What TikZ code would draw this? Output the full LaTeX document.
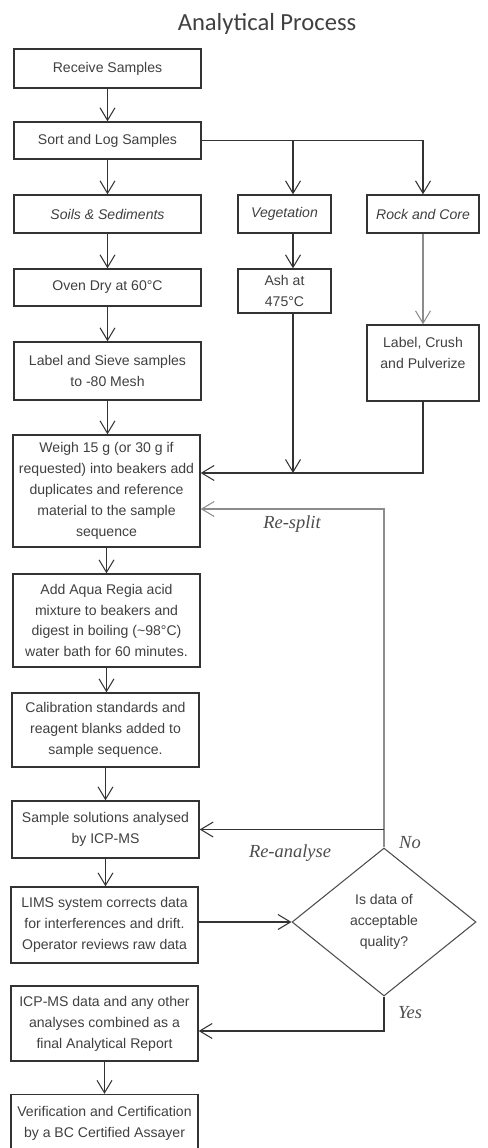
\documentclass[tikz,border=0pt]{standalone}
\usepackage{fontspec}
\setmainfont{Liberation Sans}
\newfontfamily\titlefont{Carlito}
\newfontfamily\notefont{Liberation Serif}
\usetikzlibrary{arrows.meta,shapes.geometric}

\tikzset{
  stepbox/.style={draw=black!80, line width=0.8pt, align=center, inner sep=1pt,
    font=\fontsize{8}{11.9}\selectfont, text=black!75},
  arr/.style={-{Straight Barb[length=2.5mm,width=3mm]}, draw=black!80, line width=0.6pt},
  faint/.style={draw=black!45},
  note/.style={font=\notefont\itshape\fontsize{10.5}{12}\selectfont, text=black!70},
}

\begin{document}
\begin{tikzpicture}[x=0.02cm, y=-0.02cm]
    \useasboundingbox (0,0) rectangle (487,1148);
    \node[font=\titlefont\fontsize{14}{16}\selectfont, text=black!75] (title) at (267,24) {Analytical Process};

    % Main column
    \node[stepbox, minimum width=3.74cm, minimum height=0.78cm] (receive) at (107.5,68.5) {Receive Samples};
    \node[stepbox, minimum width=3.74cm, minimum height=0.74cm] (sort) at (107.5,140.5) {Sort and Log Samples};
    \node[stepbox, minimum width=3.74cm, minimum height=0.76cm] (soils) at (107.5,214) {\itshape Soils \& Sediments};
    \node[stepbox, minimum width=3.74cm, minimum height=0.74cm] (oven) at (107.5,287.5) {Oven Dry at 60°C};
    \node[stepbox, minimum width=3.74cm, minimum height=1.16cm] (sieve) at (107.5,371) {Label and Sieve samples\\to -80 Mesh};
    \node[stepbox, minimum width=3.74cm, minimum height=2.24cm] (weigh) at (106.5,491) {Weigh 15 g (or 30 g if\\requested) into beakers add\\duplicates and reference\\material to the sample\\sequence};
    \node[stepbox, minimum width=3.74cm, minimum height=1.86cm] (aqua) at (106.5,620.5) {Add Aqua Regia acid\\mixture to beakers and\\digest in boiling (\textasciitilde 98°C)\\water bath for 60 minutes.};
    \node[stepbox, minimum width=3.74cm, minimum height=1.48cm] (calib) at (105.5,730) {Calibration standards and\\reagent blanks added to\\sample sequence.};
    \node[stepbox, minimum width=3.74cm, minimum height=1.14cm] (sol) at (105.5,829.5) {Sample solutions analysed\\by ICP-MS};
    \node[stepbox, minimum width=3.74cm, minimum height=1.52cm] (lims) at (104.5,925) {LIMS system corrects data\\for interferences and drift.\\Operator reviews raw data};
    \node[stepbox, minimum width=3.74cm, minimum height=1.5cm] (icp) at (104.5,1023.5) {ICP-MS data and any other\\analyses combined as a\\final Analytical Report};
    \node[stepbox, minimum width=3.74cm, minimum height=1.5cm] (verif) at (104.5,1132) {Verification and Certification\\by a BC Certified Assayer\\~};

    % Vegetation and rock branches
    \node[stepbox, minimum width=1.86cm, minimum height=0.76cm] (veg) at (284.5,214) {\itshape Vegetation};
    \node[stepbox, minimum width=1.86cm, minimum height=0.88cm] (ash) at (284.5,291) {Ash at\\475°C};
    \node[stepbox, minimum width=2.24cm, minimum height=0.76cm] (rock) at (423,214) {\itshape Rock and Core};
    \node[stepbox, minimum width=2.24cm, minimum height=1.52cm] (crush) at (423,363) {Label, Crush\\and Pulverize\\~};

    % Decision
    \node[diamond, aspect=1.24, draw=black!70, line width=0.6pt, minimum width=3.68cm, minimum height=2.96cm,
      inner sep=0pt, align=center, font=\fontsize{8}{11.9}\selectfont, text=black!75] (check) at (384,922)
      {Is data of\\acceptable\\quality?};

    \coordinate (vline) at (293,0);
    \coordinate (joiny) at (0,473);
    \coordinate (splity) at (0,509);
    \coordinate (yesy) at (0,1031);

    \foreach \a/\b in {receive/sort, sort/soils, soils/oven, oven/sieve, sieve/weigh,
        weigh/aqua, aqua/calib, calib/sol, sol/lims, icp/verif}
      \draw[arr] (\a.south) -- (\a.south |- \b.north);

    \draw[arr] (sort.east) -| (rock.north);
    \draw[arr] (sort.east -| vline) -- (veg.north -| vline);
    \draw[arr] (veg.south -| vline) -- (ash.north -| vline);
    \draw[arr, faint] (rock.south) -- (crush.north);
    \draw[arr] (ash.south -| vline) -- (vline |- joiny);
    \draw[arr] (crush.south) |- (weigh.east |- joiny);

    % Loops back from the check
    \draw[arr, faint] (check.north) -- (check.north |- splity) -- (weigh.east |- splity);
    \draw[arr] (check.north |- sol.east) -- (sol.east);
    \draw[arr] (lims.east |- check.west) -- (check.west);
    \draw[arr] (check.south) -- (check.south |- yesy) -- (icp.east |- yesy);

    \node[note] (resplit) at (292,524) {Re-split};
    \node[note] (reanalyse) at (290,853) {Re-analyse};
    \node[note] (nolbl) at (410,843) {No};
    \node[note] (yeslbl) at (410,1013) {Yes};
\end{tikzpicture}
\end{document}
